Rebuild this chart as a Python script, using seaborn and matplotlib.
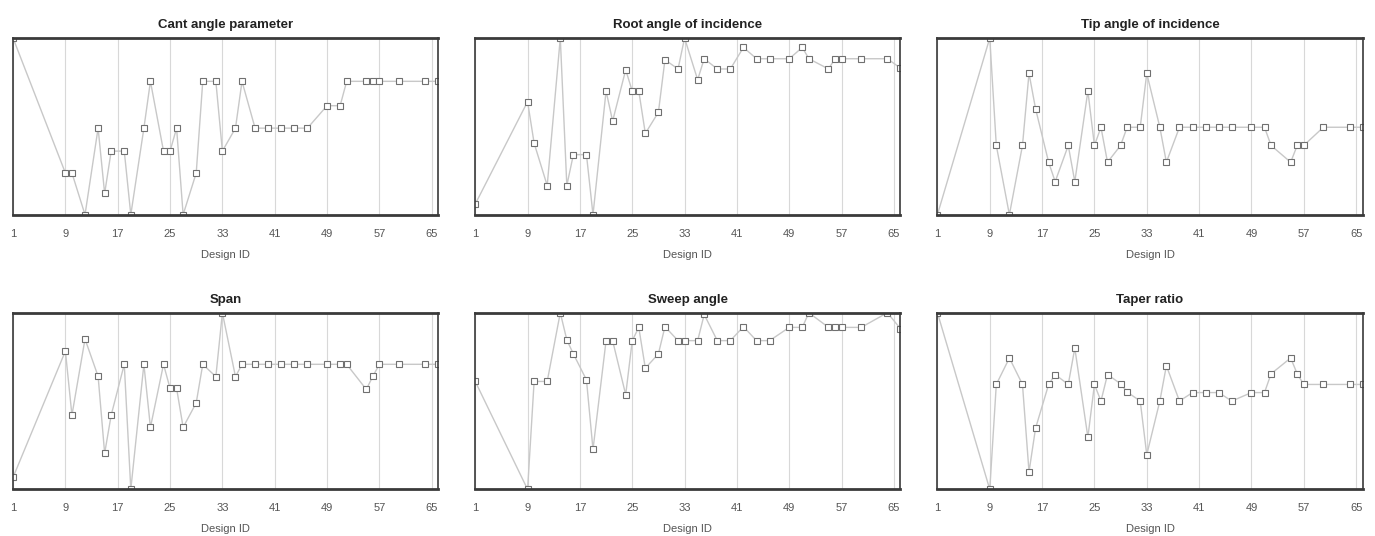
import matplotlib
matplotlib.use('Agg')
import matplotlib.pyplot as plt
import pandas as pd
import seaborn as sns

# design IDs that were evaluated (same for every parameter)
design_id = [1, 9, 10, 12, 14, 15, 16, 18, 19, 21, 22, 24, 25, 26, 27, 29, 30, 32,
             33, 35, 36, 38, 40, 42, 44, 46, 49, 51, 52, 55, 56, 57, 60, 64, 66]

# normalised parameter values
cant = [1.0, 0.236, 0.236, 0.0, 0.49, 0.12, 0.36, 0.36, 0.0, 0.49, 0.755, 0.36, 0.36,
        0.49, 0.0, 0.236, 0.755, 0.755, 0.36, 0.49, 0.755, 0.49, 0.49, 0.49, 0.49, 0.49,
        0.617, 0.617, 0.755, 0.755, 0.755, 0.755, 0.755, 0.755, 0.755]
root = [0.06, 0.64, 0.405, 0.165, 1.0, 0.165, 0.34, 0.34, 0.0, 0.70, 0.53, 0.82, 0.70,
        0.70, 0.46, 0.58, 0.877, 0.825, 1.0, 0.764, 0.883, 0.825, 0.825, 0.947, 0.883,
        0.883, 0.883, 0.947, 0.883, 0.825, 0.883, 0.883, 0.883, 0.883, 0.83]
tip = [0.0, 1.0, 0.392, 0.0, 0.392, 0.80, 0.60, 0.297, 0.187, 0.392, 0.187, 0.70, 0.392,
       0.495, 0.297, 0.392, 0.495, 0.495, 0.80, 0.495, 0.297, 0.495, 0.495, 0.495, 0.495,
       0.495, 0.495, 0.495, 0.392, 0.297, 0.392, 0.392, 0.495, 0.495, 0.495]
span = [0.068, 0.783, 0.42, 0.851, 0.64, 0.204, 0.42, 0.708, 0.0, 0.708, 0.351, 0.708,
        0.572, 0.572, 0.351, 0.49, 0.708, 0.638, 1.0, 0.638, 0.708, 0.708, 0.708, 0.708,
        0.708, 0.708, 0.708, 0.708, 0.708, 0.566, 0.64, 0.708, 0.708, 0.708, 0.708]
sweep = [0.611, 0.0, 0.611, 0.611, 1.0, 0.846, 0.767, 0.62, 0.226, 0.842, 0.842, 0.536,
         0.842, 0.917, 0.686, 0.767, 0.921, 0.842, 0.842, 0.842, 0.99, 0.842, 0.842,
         0.921, 0.842, 0.842, 0.917, 0.917, 1.0, 0.917, 0.917, 0.917, 0.917, 1.0, 0.91]
taper = [1.0, 0.0, 0.594, 0.744, 0.594, 0.099, 0.346, 0.594, 0.65, 0.594, 0.80, 0.295,
         0.594, 0.50, 0.65, 0.598, 0.551, 0.50, 0.196, 0.50, 0.70, 0.50, 0.548, 0.548,
         0.548, 0.50, 0.548, 0.548, 0.654, 0.744, 0.654, 0.594, 0.594, 0.594, 0.594]

titles = ['Cant angle parameter', 'Root angle of incidence', 'Tip angle of incidence',
          'Span', 'Sweep angle', 'Taper ratio']
series = [cant, root, tip, span, sweep, taper]

sns.set_style('white')
plt.rcParams['font.family'] = ['Liberation Sans', 'DejaVu Sans']

fig, axes = plt.subplots(2, 3, figsize=(13.75, 5.36), dpi=100)
fig.subplots_adjust(left=0.0095, right=0.991, top=0.929, bottom=0.087,
                    wspace=0.087, hspace=0.555)

for ax, title, vals in zip(axes.flat, titles, series):
    df = pd.DataFrame({'Design ID': design_id, 'value': vals})
    sns.lineplot(data=df, x='Design ID', y='value', ax=ax, color='#c8c8c8',
                 linewidth=1.0, marker='s', markersize=5, markerfacecolor='white',
                 markeredgecolor='#707070', markeredgewidth=0.8, clip_on=True, zorder=1)
    ax.set_xlim(1, 66)
    ax.set_ylim(0, 1)
    ax.set_xticks(range(1, 66, 8))
    ax.set_xticks(range(5, 66, 8), minor=True)
    ax.set_yticks([])
    ax.xaxis.grid(True, which='major', color='#d8d8d8', linewidth=0.8)
    ax.set_axisbelow(True)
    ax.tick_params(axis='x', which='major', direction='in', length=3, width=1.2,
                   color='#303030', labelsize=8, labelcolor='#555555', pad=10)
    ax.tick_params(axis='x', which='minor', direction='in', length=3, width=1.2,
                   color='#303030')
    for side, sp in ax.spines.items():
        sp.set_visible(True)
        sp.set_color('#3a3a3a')
        sp.set_linewidth(2.0 if side in ('top', 'bottom') else 1.2)
        sp.set_zorder(5)
    ax.set_title(title, fontsize=9.5, fontweight='bold', color='#222222', pad=7)
    ax.set_xlabel('Design ID', fontsize=8, color='#555555', labelpad=8)
    ax.set_ylabel('')

fig.savefig('out.png', dpi=100)
